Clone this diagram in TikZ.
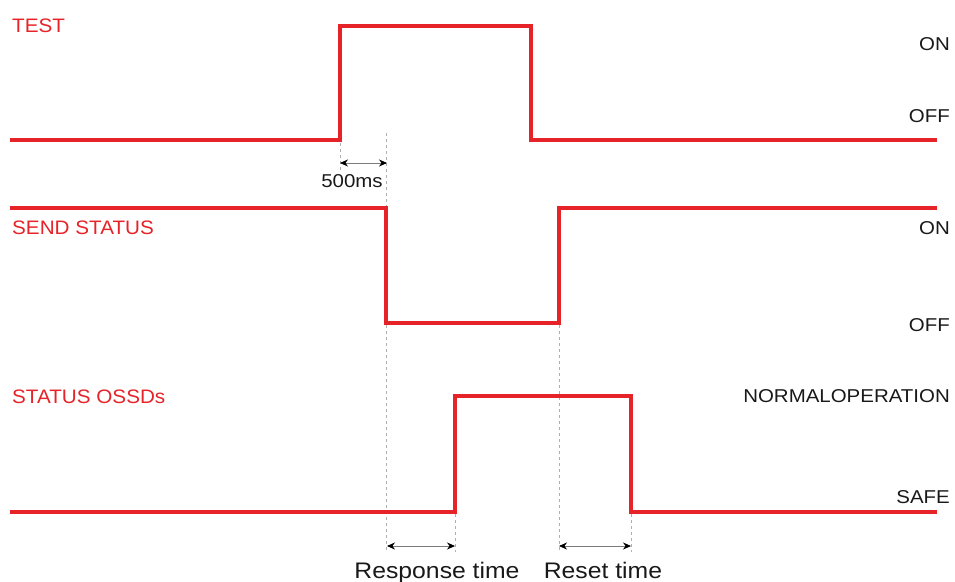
\documentclass[tikz,border=0pt]{standalone}
\usepackage{fontspec}
\setmainfont{Liberation Sans}
\newfontfamily\blkfont[FakeStretch=1.1]{Liberation Sans}
\newfontfamily\redfont[FakeStretch=1.06]{Liberation Sans}
\usetikzlibrary{arrows.meta}
\definecolor{sigred}{RGB}{230,35,40}
\definecolor{txtgray}{RGB}{25,25,25}
\definecolor{guide}{RGB}{175,175,175}
\tikzset{
  signal/.style={draw=sigred, line width=4pt, line join=miter},
  guideline/.style={draw=guide, line width=0.8pt, dash pattern=on 3pt off 3pt},
  dim/.style={draw=guide!70!black, line width=0.8pt, {Stealth[length=8pt,width=7pt,black]}-{Stealth[length=8pt,width=7pt,black]}},
  redlabel/.style={anchor=base west, inner sep=0pt, text=sigred, font=\redfont\fontsize{19.5}{19.5}\selectfont},
  statelabel/.style={anchor=base east, inner sep=0pt, text=txtgray, font=\blkfont\fontsize{18.6}{18.6}\selectfont},
  dimlabel/.style={anchor=base, inner sep=0pt, text=txtgray, font=\blkfont\fontsize{18.6}{18.6}\selectfont},
  biglabel/.style={anchor=base, inner sep=0pt, text=txtgray, font=\blkfont\fontsize{22.5}{22.5}\selectfont}
}
\begin{document}
\begin{tikzpicture}[x=1pt,y=-1pt]
\useasboundingbox (0,0) rectangle (955,581);
% signal corner coordinates
\coordinate (t0) at (10,140); \coordinate (t1) at (340,140); \coordinate (t2) at (340,26);
\coordinate (t3) at (531,26); \coordinate (t4) at (531,140); \coordinate (t5) at (937,140);
\coordinate (s0) at (10,208); \coordinate (s1) at (386,208); \coordinate (s2) at (386,323);
\coordinate (s3) at (559,323); \coordinate (s4) at (559,208); \coordinate (s5) at (937,208);
\coordinate (o0) at (10,512); \coordinate (o1) at (455,512); \coordinate (o2) at (455,396);
\coordinate (o3) at (631,396); \coordinate (o4) at (631,512); \coordinate (o5) at (937,512);
% guide lines
\coordinate (g1a) at (340,143); \coordinate (g1b) at (340,172);
\coordinate (g2a) at (386,133); \coordinate (g2b) at (386,208);
\coordinate (g3a) at (386,325); \coordinate (g3b) at (386,552);
\coordinate (g4a) at (559,325); \coordinate (g4b) at (559,552);
\coordinate (g5a) at (455,514); \coordinate (g5b) at (455,552);
\coordinate (g6a) at (631,514); \coordinate (g6b) at (631,552);
\draw[guideline] (g1a) -- (g1b);
\draw[guideline] (g2a) -- (g2b);
\draw[guideline] (g3a) -- (g3b);
\draw[guideline] (g4a) -- (g4b);
\draw[guideline] (g5a) -- (g5b);
\draw[guideline] (g6a) -- (g6b);
% dimension arrows
\coordinate (d1a) at (340,163); \coordinate (d1b) at (387,163);
\coordinate (d2a) at (387,546); \coordinate (d2b) at (455,546);
\coordinate (d3a) at (559,546); \coordinate (d3b) at (631,546);
\draw[dim] (d1a) -- (d1b);
\draw[dim] (d2a) -- (d2b);
\draw[dim] (d3a) -- (d3b);
% signals
\draw[signal] (t0) -- (t1) -- (t2) -- (t3) -- (t4) -- (t5);
\draw[signal] (s0) -- (s1) -- (s2) -- (s3) -- (s4) -- (s5);
\draw[signal] (o0) -- (o1) -- (o2) -- (o3) -- (o4) -- (o5);
% labels
\node[redlabel] (lt) at (12,32) {TEST};
\node[redlabel] (ls) at (12,234) {SEND STATUS};
\node[redlabel] (lo) at (12,403) {STATUS OSSDs};
\node[statelabel] (on1) at (950,50) {ON};
\node[statelabel] (off1) at (950,122) {OFF};
\node[statelabel] (on2) at (950,234) {ON};
\node[statelabel] (off2) at (950,331) {OFF};
\node[statelabel] (norm) at (950,402) {NORMALOPERATION};
\node[statelabel] (safe) at (950,503) {SAFE};
\node[dimlabel] (ms) at (352,187) {500ms};
\node[biglabel] (resp) at (437,578) {Response time};
\node[biglabel] (reset) at (603,578) {Reset time};
\end{tikzpicture}
\end{document}
